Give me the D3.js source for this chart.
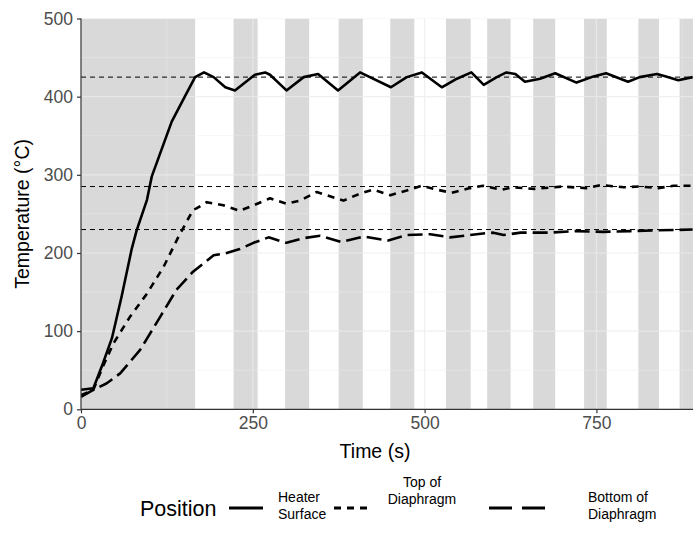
<!DOCTYPE html>
<html>
<head>
<meta charset="utf-8">
<script src="https://cdn.jsdelivr.net/npm/d3@7"></script>
<style>
  body { margin: 0; background: #fff; }
  text { font-family: "Liberation Sans", Arial, sans-serif; }
</style>
</head>
<body>
<svg id="chart" width="693" height="546"></svg>
<script>
// heater surface readings (time s, temperature °C)
var heaterTime = [0, 18, 32, 45, 59, 74, 81, 96, 103, 132, 151, 166, 179, 193, 210, 224, 253, 268, 275, 299, 324, 345, 374, 406, 451, 474, 496, 525, 547, 568, 586, 605, 619, 632, 646, 668, 690, 721, 743, 764, 796, 813, 838, 850, 869, 890];
var heaterTemp = [25, 27, 59, 91, 144, 206, 229, 268, 298, 368, 400, 425, 431, 425, 412, 408, 428, 431, 428, 408, 425, 429, 408, 431, 412, 425, 431, 412, 423, 431, 415, 425, 431, 429, 419, 423, 430, 418, 425, 430, 419, 425, 429, 426, 421, 425];

var topTime = [0, 18, 32, 47, 71, 96, 120, 142, 163, 168, 183, 207, 231, 251, 275, 299, 319, 343, 382, 406, 425, 450, 474, 496, 518, 539, 566, 585, 612, 628, 660, 700, 735, 757, 790, 812, 840, 862, 890];
var topTemp = [18, 25, 55, 84, 118, 148, 182, 221, 255, 257, 265, 261, 254, 261, 270, 263, 267, 278, 267, 276, 281, 274, 280, 286, 281, 277, 283, 286, 281, 284, 282, 285, 283, 287, 284, 285, 283, 286, 286];

var bottomTime = [0, 18, 37, 57, 86, 115, 139, 163, 193, 212, 231, 251, 273, 299, 324, 348, 379, 411, 447, 474, 508, 537, 585, 600, 615, 640, 680, 720, 760, 800, 840, 890];
var bottomTemp = [16, 25, 33, 46, 76, 118, 153, 176, 197, 200, 205, 213, 220, 213, 219, 222, 214, 221, 216, 223, 224, 220, 225, 226, 223, 226, 226, 228, 227, 228, 229, 230];

// heater-off windows (grey bands)
var bandStart = [0, 222, 297, 375, 450, 531, 591, 658, 732, 811, 871];
var bandEnd = [166, 257, 332, 410, 485, 567, 625, 690, 765, 841, 900];

var targetTemps = [425, 285, 230];

var xTicks = [0, 250, 500, 750];
var yTicks = [0, 100, 200, 300, 400, 500];

var seriesNames = ["Heater\nSurface", "Top of\nDiaphragm", "Bottom of\nDiaphragm"];

var svg = d3.select("#chart");
var pLeft = 81, pRight = 693, pTop = 18.5, pBottom = 409.3;

var x = d3.scaleLinear().domain([0, 890.5]).range([pLeft, pRight]);
var y = d3.scaleLinear().domain([0, 500]).range([pBottom, pTop]);

svg.append("defs").append("clipPath").attr("id", "panel")
    .append("rect").attr("x", pLeft).attr("y", pTop)
    .attr("width", pRight - pLeft).attr("height", pBottom - pTop);

var panel = svg.append("g").attr("clip-path", "url(#panel)");

// grey bands first
panel.selectAll("rect.band")
    .data(d3.range(bandStart.length))
    .join("rect")
    .attr("class", "band")
    .attr("x", i => x(bandStart[i]))
    .attr("width", i => x(bandEnd[i]) - x(bandStart[i]))
    .attr("y", pTop)
    .attr("height", pBottom - pTop)
    .attr("fill", "#d9d9d9");

// grid lines show over the bands in the original
var grid = panel.append("g").attr("stroke", "#ebebeb").attr("opacity", 0.75);
grid.selectAll("line.vmin").data([125, 375, 625, 875]).join("line")
    .attr("x1", d => x(d)).attr("x2", d => x(d)).attr("y1", pTop).attr("y2", pBottom)
    .attr("stroke-width", 0.6);
grid.selectAll("line.hmin").data([50, 150, 250, 350, 450]).join("line")
    .attr("y1", d => y(d)).attr("y2", d => y(d)).attr("x1", pLeft).attr("x2", pRight)
    .attr("stroke-width", 0.6);
grid.selectAll("line.vmaj").data(xTicks).join("line")
    .attr("x1", d => x(d)).attr("x2", d => x(d)).attr("y1", pTop).attr("y2", pBottom)
    .attr("stroke-width", 1.2);
grid.selectAll("line.hmaj").data(yTicks).join("line")
    .attr("y1", d => y(d)).attr("y2", d => y(d)).attr("x1", pLeft).attr("x2", pRight)
    .attr("stroke-width", 1.2);

// target temperature lines
panel.selectAll("line.target").data(targetTemps).join("line")
    .attr("x1", pLeft).attr("x2", pRight)
    .attr("y1", d => y(d)).attr("y2", d => y(d))
    .attr("stroke", "#000").attr("stroke-width", 1)
    .attr("stroke-dasharray", "5,4");

var line = d3.line().x(d => x(d[0])).y(d => y(d[1]));
var dashes = ["", "7,6", "15,6"];
var series = [
    d3.zip(heaterTime, heaterTemp),
    d3.zip(topTime, topTemp),
    d3.zip(bottomTime, bottomTemp)
];

panel.selectAll("path.series").data(series).join("path")
    .attr("class", "series")
    .attr("d", line)
    .attr("fill", "none")
    .attr("stroke", "#000")
    .attr("stroke-width", 2.6)
    .attr("stroke-linejoin", "round")
    .attr("stroke-dasharray", (d, i) => dashes[i] || null);

// axes
var xAxis = svg.append("g").attr("transform", `translate(0,${pBottom})`)
    .call(d3.axisBottom(x).tickValues(xTicks).tickSize(4).tickPadding(3));
var yAxis = svg.append("g").attr("transform", `translate(${pLeft},0)`)
    .call(d3.axisLeft(y).tickValues(yTicks).tickSize(4).tickPadding(4));
[xAxis, yAxis].forEach(a => {
    a.select(".domain").attr("stroke", "#333").attr("stroke-width", 1.2);
    a.selectAll(".tick line").attr("stroke", "#333").attr("stroke-width", 1.2);
    a.selectAll(".tick text").attr("fill", "#4d4d4d").attr("font-size", 17.5)
        .style("font-family", "Liberation Sans, Arial, sans-serif");
});
xAxis.select(".domain").attr("d", `M${pLeft},0H${pRight}`);
yAxis.select(".domain").attr("d", `M0,${pBottom}V${pTop}`);

svg.append("text").attr("x", 375).attr("y", 458)
    .attr("text-anchor", "middle").attr("font-size", 19.5).text("Time (s)");
svg.append("text")
    .attr("transform", `translate(29,${(pTop + pBottom) / 2}) rotate(-90)`)
    .attr("text-anchor", "middle").attr("font-size", 19.5).text("Temperature (°C)");

// legend
var lg = svg.append("g");
lg.append("text").attr("x", 140).attr("y", 516).attr("font-size", 21.5).text("Position");
var keyX = [229, 334, 489];
var keyW = [34, 39, 56];
var keyDash = ["", "7,6", "23,10"];
var labelX = [278, 422, 588];
var labelAnchor = ["start", "middle", "start"];
var labelY = [502, 487, 502];
keyX.forEach((kx, i) => {
    lg.append("line").attr("x1", kx).attr("x2", kx + keyW[i])
        .attr("y1", 508).attr("y2", 508)
        .attr("stroke", "#000").attr("stroke-width", 3)
        .attr("stroke-dasharray", keyDash[i] || null);
    var t = lg.append("text").attr("x", labelX[i]).attr("y", labelY[i])
        .attr("font-size", 14).attr("text-anchor", labelAnchor[i]);
    seriesNames[i].split("\n").forEach((s, j) => {
        t.append("tspan").attr("x", labelX[i]).attr("dy", j ? 16.5 : 0).text(s);
    });
});
</script>
</body>
</html>
